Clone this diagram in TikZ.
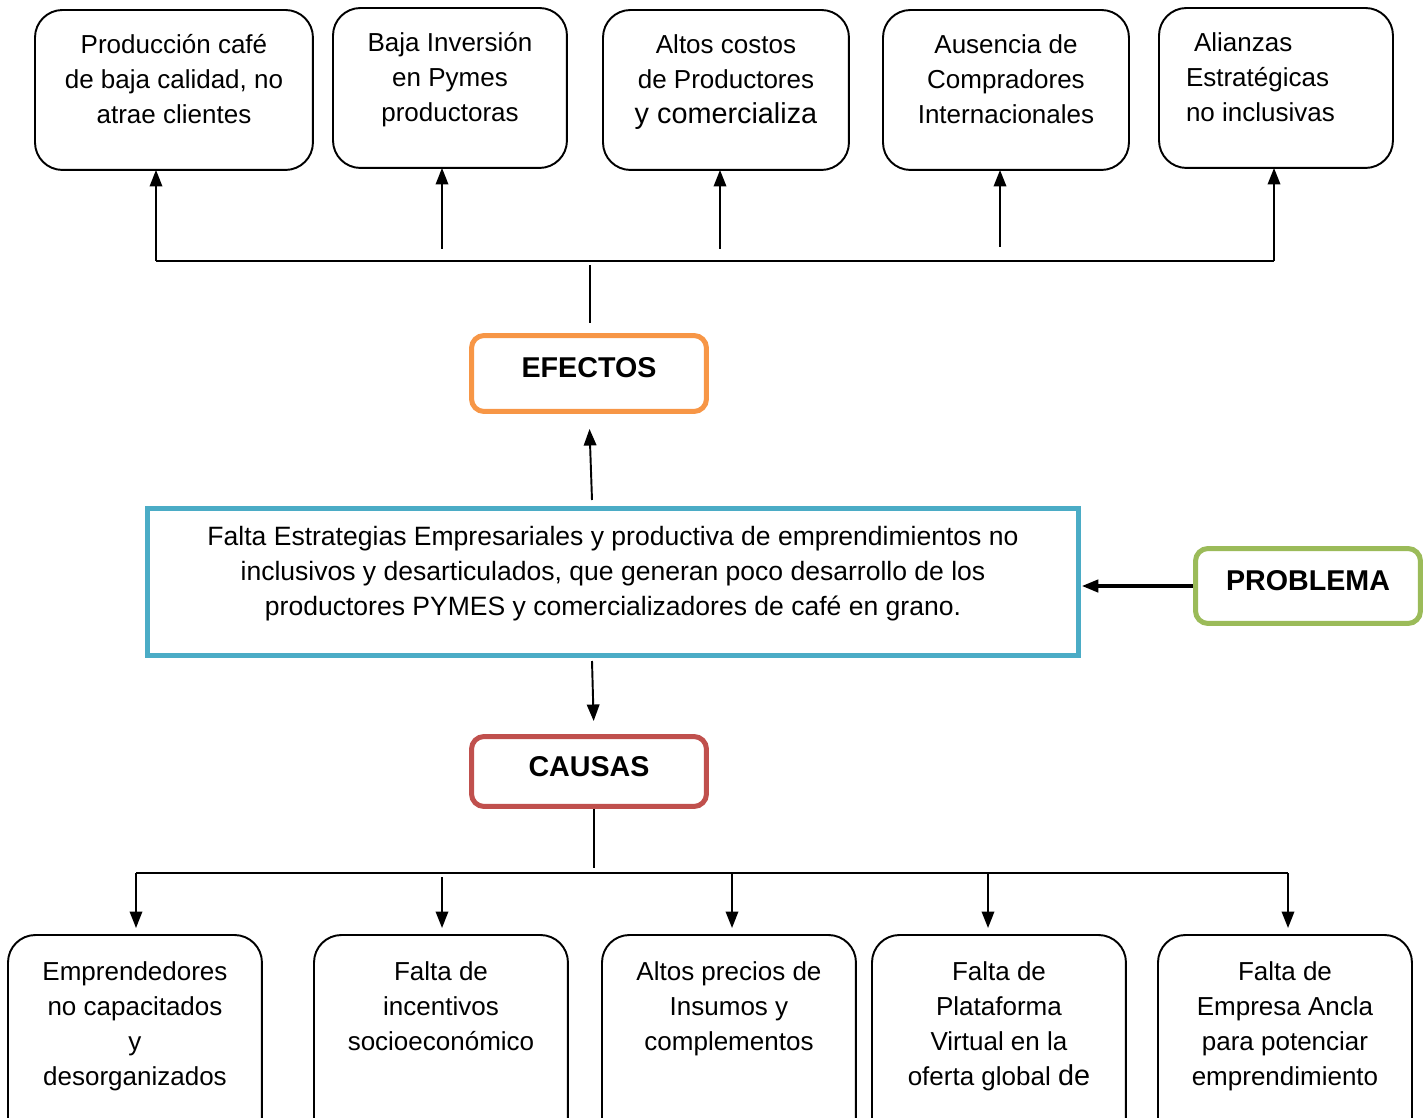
\documentclass[tikz,border=0pt]{standalone}
\usepackage{fontspec}
\setmainfont{Liberation Sans}
\usetikzlibrary{arrows.meta,positioning}
\definecolor{naranja}{HTML}{F79646}
\definecolor{celeste}{HTML}{4BACC6}
\definecolor{verde}{HTML}{9BBB59}
\definecolor{rojo}{HTML}{C0504D}
\newcommand{\celda}[3]{\parbox[t][#1][t]{#2}{\centering\strut #3}}

\begin{document}
\begin{tikzpicture}[
		x={(0.02cm,0cm)},
		y={(0cm,-0.02cm)},
		font=\fontsize{14.8}{19.9}\selectfont,
		>={Triangle[width=0.25cm,length=0.33cm]},
		caja/.style={draw, rounded corners=0.55cm, line width=1.1pt, inner xsep=0pt, inner ysep=0.38cm, outer sep=0pt, anchor=north west},
		titulo/.style={draw=#1, rounded corners=0.25cm, line width=0.1cm, minimum width=4.7cm, minimum height=1.52cm, text height=0.34cm, text depth=0.16cm, font=\fontsize{16.3}{19.9}\selectfont\bfseries},
		linea/.style={line width=1.1pt},
	]
		\useasboundingbox (0,0) rectangle (1426,1118);
		\clip (0,0) rectangle (1426,1118);

		\foreach \n/\x/\y/\w/\texto in {1/35/10/5.56cm/{Producción café\\de baja calidad, no\\atrae clientes},
			2/333/8/4.68cm/{Baja Inversión\\en Pymes\\productoras},
			3/603/10/4.92cm/{Altos costos\\de Productores\\{\fontsize{16.4}{19.9}\selectfont y comercializa}},
			4/883/10/4.92cm/{Ausencia de\\Compradores\\Internacionales}}{
			\node[caja] (e\n) at (\x,\y) {\celda{2.44cm}{\w}{\texto}};
		}
		\node[caja, inner xsep=0.54cm] (e5) at (1159,8) {\parbox[t][2.44cm][t]{3.6cm}{\raggedright\strut\hspace*{0.16cm}Alianzas\\Estratégicas\\no inclusivas}};

		\coordinate (bi) at (156,261);
		\coordinate (bd) at (1274,261);
		\draw[linea] (bi) -- (bd);
		\draw[linea,->] (bi) -- (bi |- e1.south);
		\draw[linea,->] (bd) -- (bd |- e5.south);
		\foreach \n/\x/\y in {2/442/249, 3/720/249, 4/1000/247}{
			\coordinate (a\n) at (\x,\y);
			\draw[linea,->] (a\n) -- (a\n |- e\n.south);
		}

		\node[titulo=naranja] (ef) at (589,373.5) {EFECTOS};
		\coordinate (s) at (590,265);
		\draw[linea,shorten >=0.21cm] (s) -- (s |- ef.north);

		\node[draw=celeste, line width=0.1cm, inner xsep=0pt, inner ysep=0.25cm, anchor=north, font=\fontsize{15.1}{19.9}\selectfont] (pb) at (613,506)
			{\celda{2.44cm}{18.62cm}{Falta Estrategias Empresariales y productiva de emprendimientos no\\inclusivos y desarticulados, que generan poco desarrollo de los\\productores PYMES y comercializadores de café en grano.}};
		\coordinate (pu) at (592,500);
		\draw[linea,->,shorten >=0.3cm] (pu) -- (ef.south);

		\node[titulo=verde, minimum width=4.5cm, minimum height=1.5cm] (pr) at (1308,586) {PROBLEMA};
		\draw[line width=1.8pt,->,shorten >=0.02cm] (pr.west) -- (pr.west -| pb.east);

		\node[titulo=rojo, minimum height=1.4cm] (ca) at (589,771.5) {CAUSAS};
		\coordinate (pd) at (592,661);
		\draw[linea,->,shorten >=0.26cm] (pd) -- ([xshift=0.1cm]ca.north);

		\foreach \n/\x/\texto in {1/8/{Emprendedores\\no capacitados\\y\\desorganizados},
			2/314/{Falta de\\incentivos\\socioeconómico},
			3/602/{Altos precios de\\Insumos y\\complementos},
			4/872/{Falta de\\Plataforma\\Virtual en la\\oferta global {\fontsize{16.4}{19.9}\selectfont de}},
			5/1158/{Falta de\\Empresa Ancla\\para potenciar\\emprendimiento}}{
			\node[caja, inner ysep=0.42cm] (c\n) at (\x,935) {\celda{3.6cm}{5.08cm}{\texto}};
		}

		\coordinate (tc) at (594,868);
		\draw[linea] (ca.south -| tc) -- (tc);
		\coordinate (ci) at (136,873);
		\coordinate (cd) at (1288,873);
		\draw[linea] (ci) -- (cd);
		\foreach \n/\x/\y in {1/136/873, 2/442/877, 3/732/873, 4/988/873, 5/1288/873}{
			\coordinate (b\n) at (\x,\y);
			\draw[linea,->,shorten >=0.14cm] (b\n) -- (b\n |- c\n.north);
		}
	\end{tikzpicture}
\end{document}
